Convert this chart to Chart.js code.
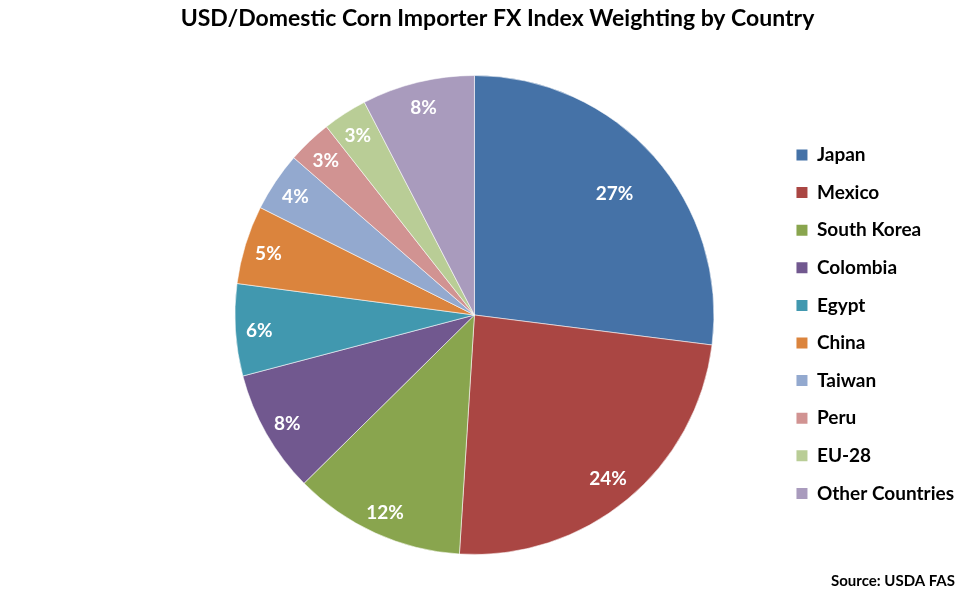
<!DOCTYPE html>
<html><head><meta charset="utf-8">
<script src="https://cdn.jsdelivr.net/npm/chart.js@4"></script>
<style>html,body{margin:0;padding:0;background:#fff}#wrap{width:975px;height:600px}</style>
</head><body><div id="wrap"><canvas id="c" width="975" height="600"></canvas></div>
<script>
const countries = ['Japan', 'Mexico', 'South Korea', 'Colombia', 'Egypt', 'China', 'Taiwan', 'Peru', 'EU-28', 'Other Countries'];
const weights = [27.0, 24.0, 11.6, 8.3, 6.2, 5.3, 4.0, 3.0, 3.0, 7.6];
const percentLabels = weights.map(v => Math.round(v) + '%');
const chartTitle = 'USD/Domestic Corn Importer FX Index Weighting by Country';
const sourceNote = 'Source: USDA FAS';
const sliceColors = ['#4572A7', '#AA4643', '#89A54E', '#71588F', '#4198AF', '#DB843D', '#93A9CF', '#D19392', '#B9CD96', '#A99BBD'];

const FONT = 'Lato';

const sliceLabels = {
  id: 'sliceLabels',
  afterDatasetsDraw(chart) {
    const ctx = chart.ctx;
    const meta = chart.getDatasetMeta(0);
    ctx.save();
    ctx.font = 'bold 19px ' + FONT;
    ctx.fillStyle = '#ffffff';
    ctx.textAlign = 'center';
    ctx.textBaseline = 'middle';
    meta.data.forEach((arc, i) => {
      const p = arc.getProps(['x', 'y', 'startAngle', 'endAngle', 'outerRadius'], true);
      const mid = (p.startAngle + p.endAngle) / 2;
      const v = weights[i];
      const f = v >= 25 ? 0.78 : (v >= 20 ? 0.875 : 0.9);
      ctx.fillText(percentLabels[i], p.x + Math.cos(mid) * p.outerRadius * f, p.y + Math.sin(mid) * p.outerRadius * f + 2);
    });
    ctx.restore();
  }
};

const textNotes = {
  id: 'textNotes',
  afterDraw(chart) {
    const ctx = chart.ctx;
    ctx.save();
    ctx.fillStyle = '#000';
    ctx.textBaseline = 'middle';
    ctx.font = 'bold 23px ' + FONT;
    ctx.textAlign = 'center';
    ctx.fillText(chartTitle, 497.5, 19);
    ctx.font = 'bold 15px ' + FONT;
    ctx.textAlign = 'right';
    ctx.fillText(sourceNote, 955, 581);
    ctx.restore();
  }
};

new Chart(document.getElementById('c'), {
  type: 'pie',
  data: {
    labels: countries,
    datasets: [{
      data: weights,
      backgroundColor: sliceColors,
      borderColor: 'rgba(255,255,255,0.55)',
      borderWidth: 1
    }]
  },
  options: {
    responsive: false,
    animation: false,
    devicePixelRatio: 1,
    layout: { padding: { left: 171, right: 11, top: 75, bottom: 45 } },
    plugins: {
      title: { display: false },
      legend: {
        position: 'right',
        align: 'start',
        title: { display: true, text: ' ', font: { size: 10 }, padding: { top: 0, bottom: 39.9 } },
        labels: {
          color: '#000',
          font: { family: FONT, size: 19, weight: 'bold' },
          boxWidth: 11,
          boxHeight: 11,
          padding: 18.6,
          generateLabels(chart) {
            return Chart.overrides.pie.plugins.legend.labels.generateLabels(chart).map(l => Object.assign(l, { lineWidth: 0, strokeStyle: 'rgba(0,0,0,0)' }));
          }
        }
      },
      tooltip: { enabled: false }
    }
  },
  plugins: [sliceLabels, textNotes]
});
</script>
</body></html>
